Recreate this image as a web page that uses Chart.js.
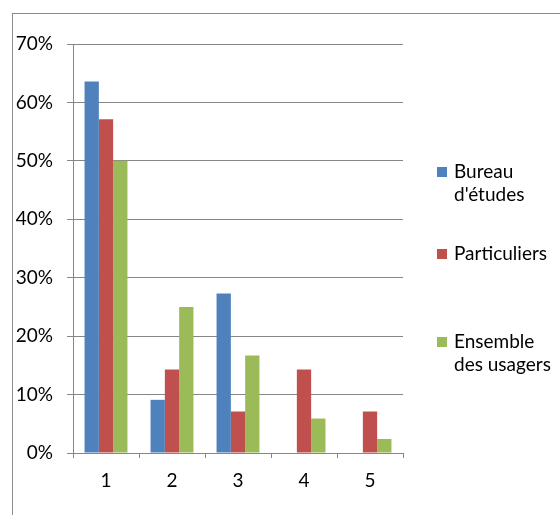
<!DOCTYPE html>
<html>
<head>
<meta charset="utf-8">
<script src="https://cdn.jsdelivr.net/npm/chart.js@4"></script>
<style>
  body { margin: 0; background: #fff; overflow: hidden; }
  #frame { position: absolute; left: 12px; top: 13px; width: 700px; height: 700px; border: 1px solid #8c8c8c; }
  #wrap { position: absolute; left: 0; top: 0; width: 560px; height: 515px; }
</style>
</head>
<body>
<div id="frame"></div>
<div id="wrap"><canvas id="chart" width="560" height="515"></canvas></div>
<script>
// data (percent)
var categories = ["1", "2", "3", "4", "5"];
var seriesNames = ["Bureau\nd'études", "Particuliers", "Ensemble\ndes usagers"];
var bureau = [63.6, 9.1, 27.3, 0, 0];
var particuliers = [57.1, 14.3, 7.1, 14.3, 7.1];
var ensemble = [50, 25, 16.7, 5.9, 2.4];
var colors = ["#4f81bd", "#c0504d", "#9bbb59"];

var FONT = "Lato";
var gridColor = "#868686";

// legend drawn at the right, like the Excel one (multi-line labels)
var legendY = [172, 254, 342];
var sideLegend = {
  id: "sideLegend",
  afterDraw: function (chart) {
    var ctx = chart.ctx;
    ctx.save();
    ctx.font = "19px " + FONT;
    ctx.textBaseline = "middle";
    chart.data.datasets.forEach(function (ds, i) {
      var y = legendY[i];
      ctx.fillStyle = ds.backgroundColor;
      ctx.fillRect(437, y - 5, 10, 10);
      ctx.fillStyle = "#000";
      ds.label.split("\n").forEach(function (line, j) {
        ctx.fillText(line, 454, y + j * 23);
      });
    });
    ctx.restore();
  }
};

var ctx = document.getElementById("chart").getContext("2d");
var myChart = new Chart(ctx, {
  type: "bar",
  data: {
    labels: categories,
    datasets: [
      { label: seriesNames[0], data: bureau, backgroundColor: colors[0] },
      { label: seriesNames[1], data: particuliers, backgroundColor: colors[1] },
      { label: seriesNames[2], data: ensemble, backgroundColor: colors[2] },
    ],
  },
  options: {
    responsive: false,
    animation: false,
    layout: { padding: { left: 0, top: 44, right: 157, bottom: 0 } },
    datasets: { bar: { categoryPercentage: 0.65, barPercentage: 1.0 } },
    plugins: {
      legend: { display: false },
      tooltip: { enabled: false },
    },
    scales: {
      x: {
        offset: true,
        grid: { display: true, drawOnChartArea: false, drawTicks: true, tickLength: 5, color: gridColor, offset: true },
        border: { display: true, color: gridColor, width: 1 },
        ticks: { color: "#000", font: { family: FONT, size: 19 }, padding: 11 },
        afterFit: function (scale) { scale.height = 62; },
      },
      y: {
        min: 0,
        max: 70,
        grid: { color: gridColor, lineWidth: 1, drawTicks: true, tickLength: 6 },
        border: { display: true, color: gridColor, width: 1 },
        ticks: {
          stepSize: 10,
          color: "#000",
          font: { family: FONT, size: 19 },
          padding: 14,
          callback: function (v) { return v + "%"; },
        },
        afterFit: function (scale) { scale.width = 73; },
      },
    },
  },
  plugins: [sideLegend],
});
</script>
</body>
</html>
